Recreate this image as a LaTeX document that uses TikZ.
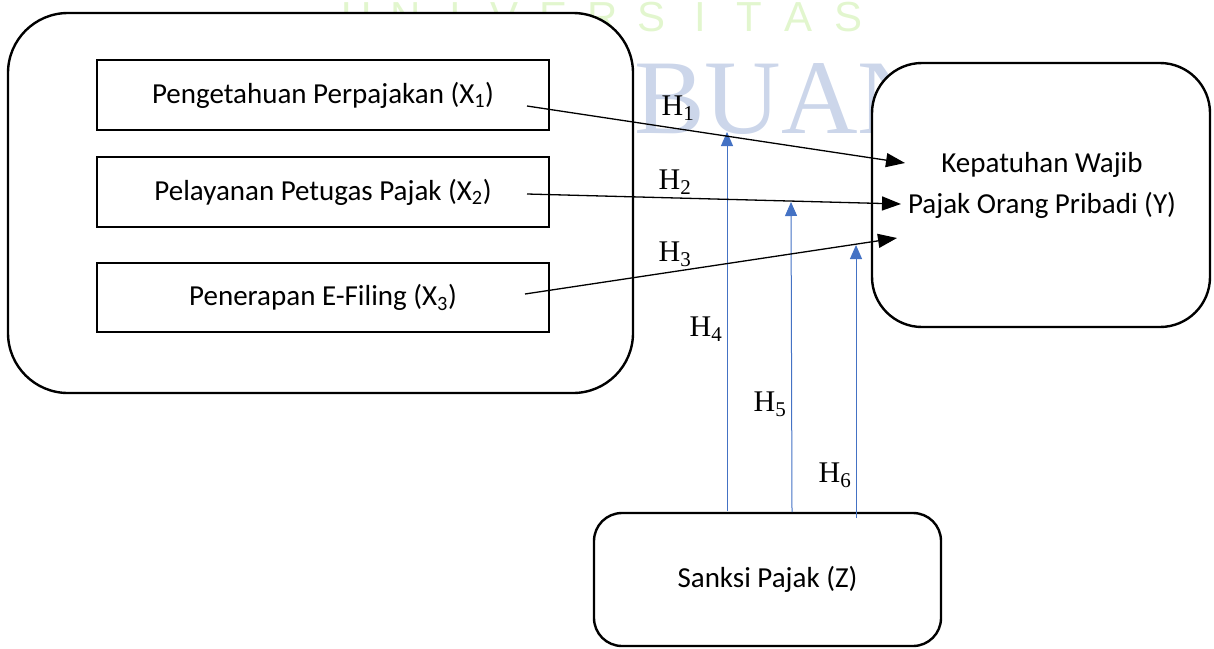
\documentclass[tikz,border=0pt]{standalone}
\usepackage{fontspec}
\setmainfont{Carlito}
\newfontfamily\hfont{Liberation Serif}
\newfontfamily\wmsans{Liberation Sans}
\usetikzlibrary{arrows.meta}
\definecolor{wmgreen}{RGB}{226,246,206}
\definecolor{wmblue}{RGB}{204,214,234}
\definecolor{modblue}{RGB}{68,114,196}
\begin{document}
\begin{tikzpicture}[x=1pt,y=-1pt,
  box/.style={draw, line width=2.4pt, fill=white, inner sep=0pt, font=\fontsize{29}{41}\selectfont, align=center},
  grp/.style={box, rounded corners=60pt},
  outbox/.style={box, rounded corners=50pt},
  zbox/.style={box, rounded corners=28pt},
  varbox/.style={box, minimum width=452pt, minimum height=70pt},
  blk/.style={line width=1.3pt, -{Triangle[length=19pt,width=14pt]}},
  blu/.style={draw=modblue, line width=1pt, -{Triangle[length=14pt,width=12pt,fill=modblue]}},
  hlab/.style={font=\hfont\fontsize{30}{30}\selectfont, inner sep=0pt},
  wmletter/.style={font=\wmsans\fontsize{42}{42}\selectfont, text=wmgreen, anchor=base, inner sep=0pt}
]
\useasboundingbox (0,0) rectangle (1214,648);
% watermark
\begin{scope}
\clip (0,0) rectangle (1214,648);
\foreach \L [count=\i from 0] in {U,N,I,V,E,R,S,I,T,A,S}
  \node[wmletter] (wm\i) at ({357+49.1*\i},31) {\L};
\end{scope}
\node[anchor=base west, font=\hfont\fontsize{106}{106}\selectfont, text=wmblue, inner sep=0pt] (wmb) at (634,133) {BUANA};
% boxes
\node[grp, minimum width=625pt, minimum height=380pt] (grp) at (320.5,203) {};
\node[varbox] (x1) at (323,95) {Pengetahuan Perpajakan (X\textsubscript{1})};
\node[varbox] (x2) at (323,192) {Pelayanan Petugas Pajak (X\textsubscript{2})};
\node[varbox, minimum height=69pt] (x3) at (323,297.5) {Penerapan E-Filing (X\textsubscript{3})};
\node[outbox, minimum width=338pt, minimum height=264pt] (y) at (1041,195) {};
\node[font=\fontsize{29}{41}\selectfont, align=center, inner sep=0pt] (ytext) at (1042,185) {Kepatuhan Wajib\\Pajak Orang Pribadi (Y)};
\node[zbox, minimum width=347pt, minimum height=133pt] (z) at (767.5,579.5) {Sanksi Pajak (Z)};
% connector ends
\coordinate (s1) at (527,106); \coordinate (e1) at (905,163);
\coordinate (s2) at (527,194); \coordinate (e2) at (901,204);
\coordinate (s3) at (525,294); \coordinate (e3) at (897,238);
\coordinate (b4) at (727,511); \coordinate (t4) at (727,132);
\coordinate (b5) at (792,512); \coordinate (t5) at (791,202);
\coordinate (b6) at (856,518); \coordinate (t6) at (856,245);
% connectors
\draw[blu] (b4) -- (t4);
\draw[blu] (b5) -- (t5);
\draw[blu] (b6) -- (t6);
\draw[blk] (s1) -- (e1);
\draw[blk] (s2) -- (e2);
\draw[blk] (s3) -- (e3);
% labels
\node[hlab] (h1) at (678,108) {H\textsubscript{1}};
\node[hlab] (h2) at (675,182) {H\textsubscript{2}};
\node[hlab] (h3) at (675,254) {H\textsubscript{3}};
\node[hlab] (h4) at (706,329) {H\textsubscript{4}};
\node[hlab] (h5) at (770,404) {H\textsubscript{5}};
\node[hlab] (h6) at (835,475) {H\textsubscript{6}};
\end{tikzpicture}
\end{document}
